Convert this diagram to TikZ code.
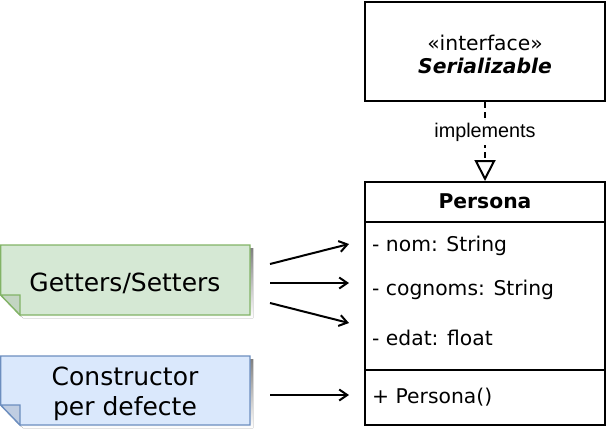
\documentclass[tikz,border=0pt]{standalone}
\usepackage{fontspec}
\setmainfont{DejaVu Sans}
\newfontfamily\libsans{Liberation Sans}
\usetikzlibrary{arrows.meta}
\definecolor{gfill}{HTML}{D5E8D4}
\definecolor{gline}{HTML}{82B366}
\definecolor{gfold}{HTML}{C3D5C2}
\definecolor{bfill}{HTML}{DAE8FC}
\definecolor{bline}{HTML}{6C8EBF}
\definecolor{bfold}{HTML}{BFCDE2}
\definecolor{shade}{HTML}{B5B5B5}
\tikzset{
  umlbox/.style={draw, line width=2pt, inner sep=0pt},
  umltext/.style={font=\fontsize{20.3}{23}\selectfont},
  member/.style={anchor=west, inner sep=0pt, font=\fontsize{20.3}{23}\selectfont},
  notetext/.style={align=center, font=\fontsize{25}{30}\selectfont},
  conn/.style={line width=2pt, -{Straight Barb[length=8pt,width=11pt,line width=2pt]}},
  realize/.style={line width=2pt, dash pattern=on 6pt off 4pt, -{Triangle[open,length=21pt,width=21pt,line width=2pt]}}
}
\begin{document}
\begin{tikzpicture}[x=1pt,y=-1pt]
\useasboundingbox (0,0) rectangle (607,429);

% notes: shadows
\fill[shade] (3,248) -- (253,248) -- (253,318) -- (23,318) -- (3,298) -- cycle;
\fill[shade] (3,359) -- (253,359) -- (253,428) -- (23,428) -- (3,408) -- cycle;
% green note
\filldraw[fill=gfill, draw=gline, line width=1.3pt] (0.7,245) -- (250,245) -- (250,315) -- (20,315) -- (0.7,295) -- cycle;
\filldraw[fill=gfold, draw=gline, line width=1.3pt] (0.7,295) -- (20,295) -- (20,315) -- cycle;
\node[notetext] (gs) at (125,283) {Getters/Setters};
% blue note
\filldraw[fill=bfill, draw=bline, line width=1.3pt] (0.7,356) -- (250,356) -- (250,425) -- (20,425) -- (0.7,405) -- cycle;
\filldraw[fill=bfold, draw=bline, line width=1.3pt] (0.7,405) -- (20,405) -- (20,425) -- cycle;
\node[notetext] (ctor) at (125,394) {Constructor\\per defecte};

% interface
\node[umlbox, minimum width=240pt, minimum height=99pt, umltext] (iface) at (485,51.5) {};
\node[umltext, align=center, inner sep=0pt] (ilabel) at (485,54)
  {«interface»\\\textbf{\textit{Serializable}}};

% Persona class
\node[umlbox, minimum width=240pt, minimum height=243pt] (persona) at (485,303.5) {};
\draw[line width=2pt] (persona.west |- 0,222) -- (persona.east |- 0,222);
\draw[line width=2pt] (persona.west |- 0,370) -- (persona.east |- 0,370);
\node[umltext, font=\fontsize{20.3}{23}\selectfont\bfseries, inner sep=0pt] (pname) at (485,201.5) {Persona};
\node[member] (nom) at (372,246) {- nom: String};
\node[member] (cognoms) at (372,290) {- cognoms: String};
\node[member] (edat) at (372,338) {- edat: float};
\node[member] (ctorm) at (372,397) {+ Persona()};

% realization
\draw[realize] (iface.south) -- node[pos=0.39, fill=white, inner sep=3pt, font=\libsans\fontsize{19.8}{20}\selectfont] (impl) {implements} (persona.north);

% connectors
\coordinate (g1s) at (270,264);
\coordinate (g2s) at (270,283);
\coordinate (g3s) at (270,303);
\coordinate (c1s) at (270,395);
\coordinate (g1e) at (349,244);
\coordinate (g2e) at (349,283);
\coordinate (g3e) at (349,323);
\coordinate (c1e) at (349,395);
\draw[conn] (g1s) -- (g1e);
\draw[conn] (g2s) -- (g2e);
\draw[conn] (g3s) -- (g3e);
\draw[conn] (c1s) -- (c1e);
\end{tikzpicture}
\end{document}
